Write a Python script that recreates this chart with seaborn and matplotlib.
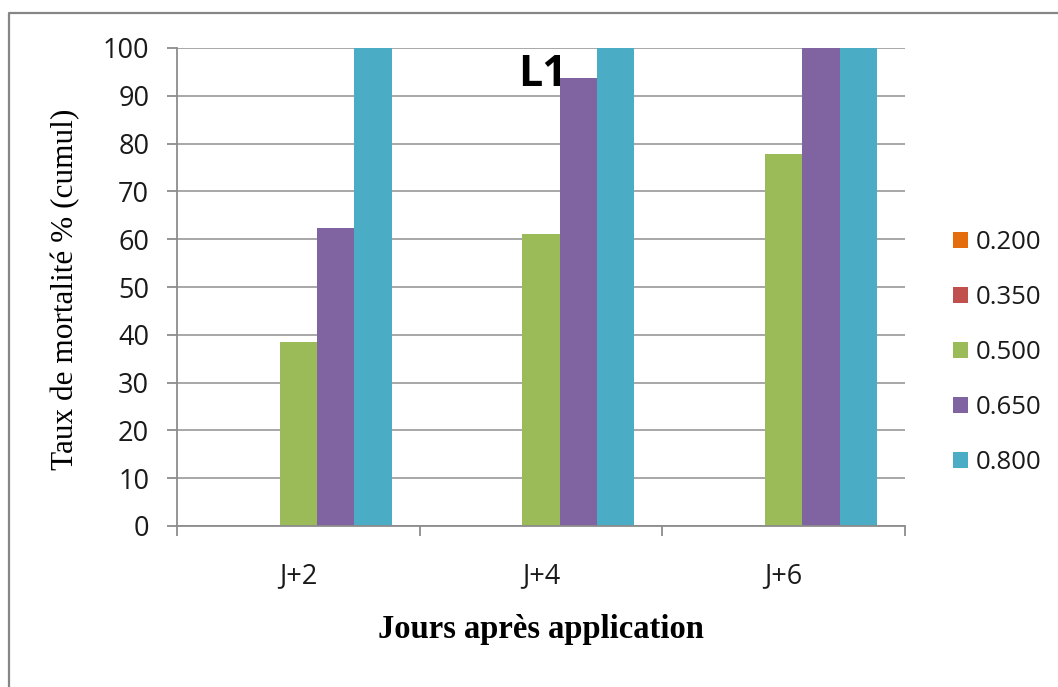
import matplotlib
matplotlib.use("Agg")
import matplotlib.pyplot as plt
from matplotlib.lines import Line2D
from matplotlib.ticker import FixedLocator
import numpy as np
import pandas as pd
import seaborn as sns

# Cumulative mortality (%) per dose, per day after application
jours = ["J+2", "J+4", "J+6"]
doses = ["0.200", "0.350", "0.500", "0.650", "0.800"]
taux_0200 = [0, 0, 0]
taux_0350 = [0, 0, 0]
taux_0500 = [38.5, 61.0, 77.8]
taux_0650 = [62.4, 93.8, 100]
taux_0800 = [100, 100, 100]
couleurs = ["#E46C0A", "#C0504D", "#9BBB59", "#8064A2", "#4BACC6"]
y_ticks = [0, 10, 20, 30, 40, 50, 60, 70, 80, 90, 100]

series = [taux_0200, taux_0350, taux_0500, taux_0650, taux_0800]
rows = []
for dose, vals in zip(doses, series):
    for j, v in zip(jours, vals):
        rows.append({"jour": j, "dose": dose, "taux": v})
df = pd.DataFrame(rows)

sns.set_theme(style="white")
plt.rcParams["font.family"] = ["Open Sans", "DejaVu Sans"]

fig = plt.figure(figsize=(10.58, 6.87), dpi=100)
ax = fig.add_axes([177 / 1058, 1 - 526 / 687, (905 - 177) / 1058, (526 - 48) / 687])

sns.barplot(data=df, x="jour", y="taux", hue="dose", order=jours, hue_order=doses,
            palette=couleurs, saturation=1, width=0.77, gap=0, linewidth=0,
            errorbar=None, ax=ax)

ax.set_xlim(-0.5, 2.5)
ax.set_ylim(0, 100)
ax.yaxis.set_major_locator(FixedLocator(y_ticks))
ax.yaxis.grid(True, color="#a0a0a0", linewidth=1.3)
ax.set_axisbelow(True)

for s in ["top", "right"]:
    ax.spines[s].set_visible(False)
for s in ["left", "bottom"]:
    ax.spines[s].set_color("#8c8c8c")
    ax.spines[s].set_linewidth(1.3)

ax.tick_params(axis="y", which="major", direction="out", length=7, width=1.3,
               color="#8c8c8c", pad=13, labelsize=19.5, labelcolor="#1a1a1a", left=True)
ax.tick_params(axis="x", which="major", length=0, pad=26, labelsize=19.5, labelcolor="#1a1a1a")
ax.xaxis.set_minor_locator(FixedLocator([-0.5, 0.5, 1.5, 2.5]))
ax.tick_params(axis="x", which="minor", direction="out", length=7.5, width=1.3,
               color="#8c8c8c", bottom=True)

ax.set_ylabel("Taux de mortalité % (cumul)", family="Liberation Serif", fontsize=22.5,
              color="black")
ax.yaxis.set_label_coords(-0.133, 0.495)
ax.set_xlabel("Jours après application", family="Liberation Serif", fontsize=23.5,
              fontweight="bold", color="black")
ax.xaxis.set_label_coords(0.5, -0.185)

ax.text(1.005, 94.4, "L1", ha="center", va="center", fontsize=31, fontweight="bold",
        color="black")

handles, labels = ax.get_legend_handles_labels()
ax.legend(handles, labels, loc="center left", bbox_to_anchor=(953 / 1058, 1 - 352.5 / 687),
          bbox_transform=fig.transFigure, frameon=False, fontsize=18.5,
          handlelength=0.58, handleheight=0.58, handletextpad=0.3, labelspacing=1.16,
          borderpad=0, borderaxespad=0, title=None)
for t in ax.get_legend().get_texts():
    t.set_color("#1a1a1a")

# Chart frame
x0, y0 = 9 / 1058, 1 - 13 / 687
fig.add_artist(Line2D([x0, x0, 1.0], [0.0, y0, y0], transform=fig.transFigure,
                      color="#868686", linewidth=1.6))

fig.savefig("out.png", dpi=100)
